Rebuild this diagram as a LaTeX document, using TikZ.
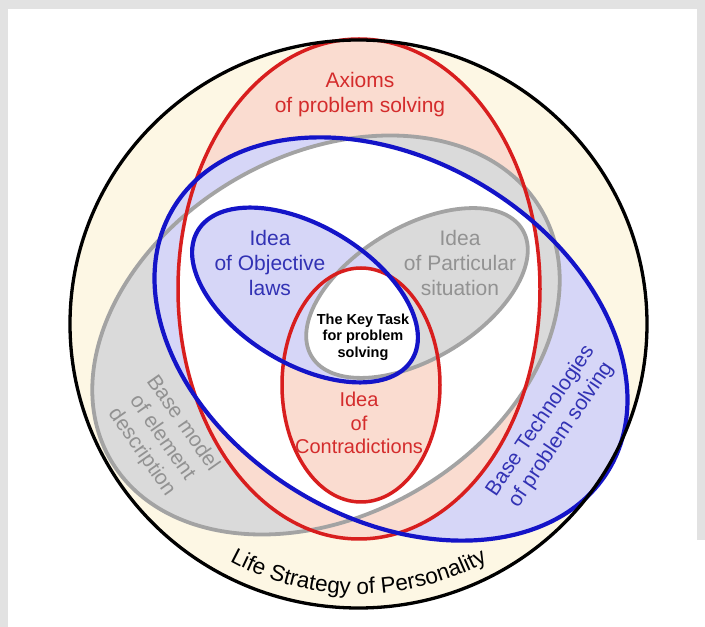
\documentclass[tikz,border=0pt]{standalone}
\usepackage{fontspec}
\setmainfont{Liberation Sans}
\usetikzlibrary{decorations.text}

\definecolor{cream}{HTML}{FDF7E4}
\definecolor{pinkf}{HTML}{FADCD0}
\definecolor{grayf}{HTML}{DADADA}
\definecolor{lavf}{HTML}{D6D6F7}
\definecolor{redl}{HTML}{D81E1E}
\definecolor{bluel}{HTML}{1414C8}
\definecolor{grayl}{HTML}{A3A3A3}
\definecolor{redt}{HTML}{D42C2C}
\definecolor{bluet}{HTML}{3232B4}
\definecolor{grayt}{HTML}{929292}
\definecolor{grain}{HTML}{E2E2E2}

% the six sets and the page
\def\pR{(359,338) ellipse [x radius=181, y radius=250]}
\def\pG{[rotate around={30:(326,292)}] (326,292) ellipse [x radius=249, y radius=180]}
\def\pB{[rotate around={-31:(391,288)}] (391,288) ellipse [x radius=254, y radius=179]}
\def\pb{[rotate around={-31:(305,332)}] (305,332) ellipse [x radius=125, y radius=69]}
\def\pg{[rotate around={31:(417,334)}] (417,334) ellipse [x radius=123, y radius=66]}
\def\pr{(361,242) ellipse [x radius=79, y radius=117]}
\def\pall{(0,0) rectangle (705,627)}
\def\pcirc{(358.5,303) ellipse [x radius=288.5, y radius=284]}

\tikzset{
  lbl/.style={align=center, font=\fontsize{21}{25}\selectfont, inner sep=0pt},
  redline/.style={draw=redl, line width=3.5pt},
  blueline/.style={draw=bluel, line width=4.2pt},
  grayline/.style={draw=grayl, line width=3.8pt},
}

\begin{document}
\begin{tikzpicture}[x=1pt,y=1pt]
\useasboundingbox \pall;

% paper with a grey frame on the left, top and upper right
\fill[grain] \pall;
\fill[white] (8,0) rectangle (697,618);
\fill[white] (697,0) rectangle (705,87);

% outer circle
\fill[cream] \pcirc;

% large sets
\fill[grayf] \pG;
\fill[lavf] \pB;
\begin{scope}
  \clip (359,0) rectangle (705,627);
  \clip \pG;
  \clip \pB;
  \fill[grayf, even odd rule] \pall \pR;
\end{scope}
\fill[pinkf] \pR;
\begin{scope}
  \clip (0,338) rectangle (705,627);
  \clip \pR;
  \clip \pB;
  \fill[lavf, even odd rule] \pall \pG;
\end{scope}
\begin{scope}
  \clip (0,338) rectangle (705,627);
  \clip \pR;
  \clip \pG;
  \fill[grayf, even odd rule] \pall \pB;
\end{scope}
\begin{scope}
  \clip \pR;
  \clip \pG;
  \fill[white] \pB;
\end{scope}

% small sets
\fill[pinkf] \pr;
\fill[grayf] \pg;
\fill[lavf] \pb;
\begin{scope}
  \clip \pr;
  \clip \pg;
  \fill[white] \pb;
\end{scope}

% outlines
\path[grayline] \pG;
\path[grayline] \pg;
\path[redline] \pR;
\path[redline] \pr;
\path[blueline] \pB;
\path[blueline] \pb;
\draw[black, line width=3.3pt] \pcirc;

% labels
\node[lbl, text=redt] (axioms) at (360,532) {Axioms\\of problem solving};
\node[lbl, text=bluet] (objective) at (270,364) {Idea\\of Objective\\laws};
\node[lbl, text=grayt] (particular) at (460,364) {Idea\\of Particular\\situation};
\node[lbl, text=redt, font=\fontsize{20}{23.5}\selectfont] (contra) at (359,204) {Idea\\of\\Contradictions};
\node[align=center, inner sep=0pt, font=\fontsize{14.5}{16.5}\selectfont\bfseries] (keytask) at (363,290) {The Key Task\\for problem\\solving};
\node[lbl, text=grayt, rotate=-55] (basemodel) at (162,189) {Base model\\of element\\description};
\node[lbl, text=bluet, rotate=56] (basetech) at (551,199) {Base Technologies\\of problem solving};

% curved caption along the bottom of the circle
\path[decorate, decoration={text along path, text align=center,
  text={|\fontsize{22.5}{27}\selectfont|Life Strategy of Personality}}]
  (358.5,303) ++(230:270) arc [start angle=230, end angle=310, radius=270];
\end{tikzpicture}
\end{document}
